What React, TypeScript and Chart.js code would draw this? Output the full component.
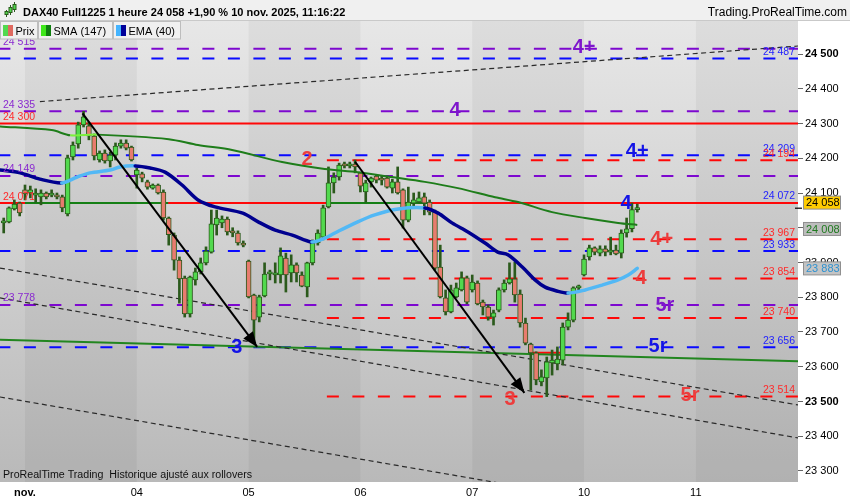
import React, { useEffect, useRef } from "react";
import { Chart, registerables } from "chart.js";

Chart.register(...registerables);

const FONT = "'Liberation Sans', Arial, Helvetica, sans-serif";

// ---- hourly bars (index 0 = first bar of 3 Nov) ----
const firstBar = -4;
const opens = [
  24014, 24017, 24054, 24071, 24109, 24100, 24094, 24089, 24100, 24094,
  24094, 24089, 24040, 24204, 24241, 24296, 24293, 24264, 24195, 24215,
  24192, 24209, 24235, 24244, 24232, 24152, 24155, 24132, 24114, 24123,
  24103, 24028, 23979, 23907, 23855, 23752, 23850, 23873, 23899, 23930,
  24008, 24014, 24025, 23991, 23985, 23956, 23904, 23806, 23743, 23804,
  23867, 23864, 23864, 23913, 23870, 23893, 23864, 23830, 23899, 23956,
  23973, 24060, 24129, 24146, 24180, 24178, 24183, 24158, 24103, 24132,
  24149, 24140, 24143, 24114, 24132, 24109, 24022, 24071, 24074, 24089,
  24074, 24045, 23887, 23798, 23758, 23801, 23821, 23856, 23821, 23841,
  23786, 23772, 23743, 23763, 23821, 23841, 23853, 23809, 23726, 23665,
  23640, 23556, 23568, 23611, 23608, 23619, 23714, 23734, 23827, 23864,
  23916, 23942, 23927, 23939, 23930, 23936, 23927, 23985, 23997, 24052,
];
const highs = [
  24028, 24060, 24080, 24074, 24123, 24120, 24112, 24109, 24103, 24109,
  24100, 24094, 24209, 24247, 24304, 24335, 24304, 24270, 24221, 24224,
  24218, 24244, 24253, 24253, 24235, 24172, 24160, 24137, 24126, 24126,
  24109, 24031, 23985, 23916, 23861, 23861, 23884, 23913, 23945, 24051,
  24051, 24034, 24031, 24000, 23991, 23962, 23907, 23809, 23806, 23899,
  23878, 23899, 23942, 23927, 23922, 23899, 23873, 23901, 23965, 23994,
  24065, 24175, 24158, 24186, 24189, 24189, 24195, 24160, 24137, 24146,
  24152, 24149, 24149, 24140, 24175, 24112, 24117, 24100, 24103, 24100,
  24080, 24051, 23950, 23821, 23835, 23841, 23873, 23861, 23864, 23847,
  23792, 23778, 23763, 23827, 23850, 23899, 23901, 23821, 23740, 23668,
  23643, 23591, 23628, 23648, 23657, 23726, 23755, 23830, 23835, 23922,
  23950, 23945, 23948, 23948, 23973, 23950, 23994, 24028, 24071, 24068,
];
const lows = [
  23985, 24014, 24051, 24034, 24080, 24086, 24074, 24066, 24083, 24089,
  24083, 24046, 24034, 24195, 24229, 24290, 24253, 24195, 24189, 24186,
  24175, 24195, 24229, 24224, 24192, 24114, 24132, 24111, 24111, 24097,
  24022, 23950, 23878, 23783, 23743, 23743, 23835, 23867, 23893, 23927,
  23979, 24000, 23979, 23974, 23950, 23945, 23798, 23671, 23729, 23801,
  23850, 23841, 23841, 23815, 23844, 23844, 23830, 23801, 23893, 23950,
  23965, 24057, 24100, 24137, 24172, 24172, 24158, 24103, 24074, 24117,
  24129, 24123, 24114, 24100, 24097, 23999, 24017, 24057, 24071, 24037,
  24037, 23878, 23798, 23749, 23755, 23798, 23818, 23781, 23815, 23778,
  23749, 23734, 23720, 23758, 23815, 23838, 23786, 23714, 23663, 23533,
  23548, 23545, 23514, 23576, 23591, 23605, 23706, 23729, 23821, 23861,
  23907, 23922, 23919, 23919, 23922, 23922, 23913, 23973, 23988, 24045,
];
const closes = [
  24019, 24057, 24068, 24043, 24097, 24109, 24100, 24100, 24089, 24100,
  24089, 24057, 24201, 24238, 24296, 24319, 24264, 24207, 24215, 24192,
  24209, 24235, 24244, 24229, 24195, 24166, 24143, 24117, 24123, 24100,
  24028, 23980, 23907, 23853, 23752, 23858, 23873, 23899, 23933, 24011,
  24028, 24025, 23988, 23985, 23956, 23950, 23801, 23734, 23801, 23867,
  23873, 23870, 23919, 23864, 23893, 23870, 23832, 23899, 23956, 23985,
  24057, 24129, 24146, 24180, 24178, 24180, 24175, 24120, 24129, 24143,
  24137, 24137, 24117, 24132, 24100, 24022, 24074, 24080, 24086, 24071,
  24045, 23884, 23801, 23758, 23821, 23827, 23856, 23786, 23844, 23781,
  23772, 23743, 23755, 23821, 23841, 23853, 23807, 23726, 23668, 23640,
  23562, 23571, 23614, 23619, 23622, 23714, 23734, 23827, 23832, 23910,
  23942, 23930, 23939, 23930, 23936, 23925, 23985, 23997, 24052, 24058,
];

// ---- moving averages ----
const smaX = [-5, 5, 8.5, 13.5, 27, 32.5, 38.9, 48.3, 56.3, 62.5, 68.9, 75.1, 81.3, 88.3, 92.6, 99, 105.2, 111.4, 115];
const smaY = [24292, 24281, 24266, 24268, 24255, 24238, 24224, 24189, 24169, 24160, 24146, 24132, 24114, 24088, 24074, 24045, 24028, 24014, 24008];
const emaX = [-4.7, -0.9, 2.8, 6.9, 9.8, 12.2, 16.0, 17.8, 20.7, 23.5, 26.3, 29.5, 32.5, 35.7, 40.9, 43.8, 47.0, 50.2, 53.9, 56.3, 58.2, 62.5, 65.7, 70.1, 75.1, 77.6, 80.2, 83.2, 86.4, 88.8, 90.7, 93.4, 95.8, 97.7, 99.9, 102.0, 105.2, 108.4, 111.4, 113.3, 115];
const emaY = [24166, 24158, 24140, 24129, 24146, 24158, 24166, 24175, 24178, 24172, 24160, 24123, 24080, 24060, 24042, 24017, 23993, 23979, 23959, 23970, 23985, 24017, 24037, 24054, 24057, 24042, 24014, 23988, 23956, 23930, 23922, 23887, 23850, 23829, 23818, 23812, 23821, 23835, 23850, 23864, 23883];

// ---- horizontal levels ----
const levelValues = [24515, 24487, 24335, 24300, 24209, 24194, 24149, 24071, 23967, 23933, 23854, 23778, 23740, 23656, 23514];
const levelKinds = ["purple", "blue", "purple", "red", "blue", "red", "purple", "red", "red", "blue", "red", "purple", "red", "blue", "red"];
const levelSolid = [false, false, false, true, false, false, false, true, false, false, false, false, false, false, false];
const levelStart = [-5, -5, -5, -5, -5, 56.7, -5, -5, 56.7, -5, 56.7, -5, 56.7, -5, 56.7];
const levelLabels = ["24 515", "24 487", "24 335", "24 300", "24 209", "24 194", "24 149", "24 071", "23 967", "23 933", "23 854", "23 778", "23 740", "23 656", "23 514"];
const levelSide = ["L", "R", "L", "L", "R", "R", "L", "L", "R", "R", "R", "L", "R", "R", "R"];
const extraLabelValue = 24072;
const extraLabelText = "24 072";

// green segments on 24071 and short red segment
const greenSegStart = [0, 56.7];
const greenSegEnd = [26.9, 75.7];
const greenSegValue = 24071;
const redSegX = [94.9, 100.9];
const redSegValue = 23640;

// ---- trend lines [x0, y0, x1, y1] ----
const dashedTrends = [
  [2.8, 24363, 145.2, 24523],
  [-4.7, 23884, 145.2, 23490],
  [-4.7, 23798, 145.2, 23395],
  [-4.7, 23513, 145.2, 23117],
];
const greenTrend = [-4.7, 23678, 145.2, 23616];
const arrows = [
  [10.8, 24329, 43.6, 23657],
  [62, 24190, 93.8, 23525],
];

// ---- wave annotations ----
const noteText = ["4+", "4", "2", "4+", "4", "4+", "4", "5r", "5r", "5r", "3", "3"];
const noteX = [105, 80.8, 53, 115, 112.9, 119.6, 115.7, 120.2, 118.9, 124.9, 39.8, 91.1];
const noteY = [24523, 24339, 24198, 24221, 24074, 23968, 23858, 23780, 23660, 23519, 23657, 23510];
const noteKind = ["purple", "purple", "red", "blue", "blue", "red", "red", "purple", "blue", "red", "blue", "red"];

// ---- axes ----
const dayLabels = ["nov.", "04", "05", "06", "07", "10", "11"];
const dayStartBar = [0, 21, 42, 63, 84, 105, 126];
const yTicks = [23300, 23400, 23500, 23600, 23700, 23800, 23900, 24000, 24100, 24200, 24300, 24400, 24500];

// ---- price tags on the axis ----
const tagValues = [24058, 24008, 23883];
const tagText = ["24 058", "24 008", "23 883"];

const LINE_COL: Record<string, string> = { purple: "#7d08cf", blue: "#0a0aff", red: "#ff0808" };
const TEXT_COL: Record<string, string> = { purple: "#8a2ad0", blue: "#1e1eff", red: "#ff2a2a" };
const NOTE_COL: Record<string, string> = { purple: "#7e16cc", blue: "#1414e6", red: "#ec3d3d" };

const fmt = (v: number) => `${Math.floor(v / 1000)} ${String(Math.round(v % 1000)).padStart(3, "0")}`;

export default function App() {
  const ref = useRef<HTMLCanvasElement | null>(null);

  useEffect(() => {
    document.body.style.margin = "0";
    const canvas = ref.current;
    if (!canvas) return;

    const barX = opens.map((_, k) => firstBar + k);
    const up = opens.map((o, k) => closes[k] >= o);

    const datasets: any[] = [];

    levelValues.forEach((v, k) => {
      datasets.push({
        type: "line",
        data: [{ x: levelStart[k], y: v }, { x: 146, y: v }],
        borderColor: LINE_COL[levelKinds[k]],
        borderWidth: 2,
        borderDash: levelSolid[k] ? [] : [12, 13.5],
        pointRadius: 0,
        order: 60,
      });
    });
    greenSegStart.forEach((s, k) => {
      datasets.push({
        type: "line",
        data: [{ x: s, y: greenSegValue }, { x: greenSegEnd[k], y: greenSegValue }],
        borderColor: "#157f15",
        borderWidth: 2,
        pointRadius: 0,
        order: 58,
      });
    });
    datasets.push({
      type: "line",
      data: [{ x: redSegX[0], y: redSegValue }, { x: redSegX[1], y: redSegValue }],
      borderColor: "#ff0808",
      borderWidth: 2,
      pointRadius: 0,
      order: 58,
    });
    dashedTrends.forEach((t) => {
      datasets.push({
        type: "line",
        data: [{ x: t[0], y: t[1] }, { x: t[2], y: t[3] }],
        borderColor: "#2a2a2a",
        borderWidth: 1.2,
        borderDash: [5, 3.5],
        pointRadius: 0,
        order: 55,
      });
    });
    datasets.push({
      type: "line",
      data: [{ x: greenTrend[0], y: greenTrend[1] }, { x: greenTrend[2], y: greenTrend[3] }],
      borderColor: "#22861f",
      borderWidth: 2,
      pointRadius: 0,
      order: 55,
    });
    // candles
    datasets.push({
      type: "bar",
      data: barX.map((x, k) => ({ x, y: [lows[k], highs[k]] })),
      backgroundColor: "#2b5a1c",
      borderWidth: 0,
      barThickness: 2,
      grouped: false,
      order: 50,
    });
    datasets.push({
      type: "bar",
      data: barX.map((x, k) => ({ x, y: [opens[k], closes[k]] })),
      backgroundColor: up.map((u) => (u ? "#52d94e" : "#e87c6e")),
      borderColor: "#2b5a1c",
      borderWidth: 1,
      borderSkipped: false,
      barThickness: 5,
      minBarLength: 2,
      grouped: false,
      order: 49,
    });
    // SMA
    datasets.push({
      type: "line",
      data: smaX.map((x, k) => ({ x, y: smaY[k] })),
      borderColor: "#1e7d1a",
      borderWidth: 2,
      pointRadius: 0,
      tension: 0.3,
      segment: {
        borderColor: (c: any) => (c.p1.parsed.y > c.p0.parsed.y ? "#7cf03c" : "#1e7d1a"),
      },
      order: 30,
    });
    // EMA
    datasets.push({
      type: "line",
      data: emaX.map((x, k) => ({ x, y: emaY[k] })),
      borderColor: "#00008f",
      borderWidth: 3.5,
      borderCapStyle: "round",
      borderJoinStyle: "round",
      pointRadius: 0,
      tension: 0.3,
      segment: {
        borderColor: (c: any) => (c.p1.parsed.y > c.p0.parsed.y ? "#52b8f5" : "#00008f"),
      },
      order: 29,
    });
    arrows.forEach((a) => {
      datasets.push({
        type: "line",
        data: [{ x: a[0], y: a[1] }, { x: a[2], y: a[3] }],
        borderColor: "#000",
        borderWidth: 2,
        pointRadius: 0,
        order: 10,
      });
    });

    const bgPlugin = {
      id: "bg",
      beforeDraw(chart: any) {
        const { ctx, chartArea } = chart;
        const { left, top, right, bottom } = chartArea;
        const X = chart.scales.x;
        ctx.save();
        ctx.fillStyle = "#ffffff";
        ctx.fillRect(0, 0, chart.width, chart.height);
        const g = ctx.createLinearGradient(0, top, 0, bottom);
        g.addColorStop(0, "#e7e7e7");
        g.addColorStop(1, "#b9b9b9");
        ctx.fillStyle = g;
        ctx.fillRect(left, top, right - left, bottom - top);
        ctx.fillStyle = "rgba(0,0,0,0.045)";
        for (let k = 0; k < dayStartBar.length; k += 2) {
          const x0 = Math.max(left, X.getPixelForValue(dayStartBar[k]));
          const x1 = k + 1 < dayStartBar.length ? X.getPixelForValue(dayStartBar[k + 1]) : right;
          ctx.fillRect(x0, top, Math.min(right, x1) - x0, bottom - top);
        }
        ctx.restore();
      },
    };

    const overlayPlugin = {
      id: "overlay",
      afterDatasetsDraw(chart: any) {
        const { ctx, chartArea } = chart;
        const { left, top, right, bottom } = chartArea;
        const X = chart.scales.x;
        const Y = chart.scales.y;
        ctx.save();
        ctx.beginPath();
        ctx.rect(left, top, right - left, bottom - top);
        ctx.clip();

        // arrow heads
        ctx.fillStyle = "#000";
        arrows.forEach((a) => {
          const x0 = X.getPixelForValue(a[0]);
          const y0 = Y.getPixelForValue(a[1]);
          const x1 = X.getPixelForValue(a[2]);
          const y1 = Y.getPixelForValue(a[3]);
          const ang = Math.atan2(y1 - y0, x1 - x0);
          const L = 15;
          const W = 6;
          ctx.beginPath();
          ctx.moveTo(x1, y1);
          ctx.lineTo(x1 - L * Math.cos(ang) + W * Math.sin(ang), y1 - L * Math.sin(ang) - W * Math.cos(ang));
          ctx.lineTo(x1 - L * Math.cos(ang) - W * Math.sin(ang), y1 - L * Math.sin(ang) + W * Math.cos(ang));
          ctx.closePath();
          ctx.fill();
        });

        // level labels
        ctx.font = `10.5px ${FONT}`;
        ctx.textBaseline = "alphabetic";
        levelValues.forEach((v, k) => {
          const y = Y.getPixelForValue(v) - 3.5;
          ctx.fillStyle = TEXT_COL[levelKinds[k]];
          if (levelSide[k] === "L") {
            ctx.textAlign = "left";
            ctx.fillText(levelLabels[k], left + 3, y);
          } else {
            ctx.textAlign = "right";
            ctx.fillText(levelLabels[k], right - 3, y);
          }
        });
        ctx.fillStyle = TEXT_COL.blue;
        ctx.textAlign = "right";
        ctx.fillText(extraLabelText, right - 3, Y.getPixelForValue(extraLabelValue) - 4);

        // wave notes
        ctx.font = `bold 20px ${FONT}`;
        ctx.textAlign = "center";
        ctx.textBaseline = "middle";
        noteText.forEach((t, k) => {
          ctx.fillStyle = NOTE_COL[noteKind[k]];
          ctx.fillText(t, X.getPixelForValue(noteX[k]), Y.getPixelForValue(noteY[k]) + 1);
        });

        // footnote
        ctx.font = `10px ${FONT}`;
        ctx.fillStyle = "#111";
        ctx.textAlign = "left";
        ctx.textBaseline = "middle";
        const foot = "ProRealTime Trading  Historique ajusté aux rollovers";
        const w = ctx.measureText(foot).width;
        ctx.translate(left + 3, bottom - 7);
        ctx.scale(249 / w, 1);
        ctx.fillText(foot, 0, 0);
        ctx.restore();
      },
      afterDraw(chart: any) {
        const { ctx, chartArea } = chart;
        const Y = chart.scales.y;
        ctx.save();
        // header
        ctx.fillStyle = "#f0f0f0";
        ctx.fillRect(0, 0, chart.width, 20);
        ctx.strokeStyle = "#c9c9c9";
        ctx.lineWidth = 1;
        ctx.beginPath();
        ctx.moveTo(0, 20.5);
        ctx.lineTo(chart.width, 20.5);
        ctx.stroke();
        // icon
        const icon = [
          [6.5, 10, 17, 11, 15],
          [10.5, 5, 15, 7, 13],
          [14.5, 2, 12, 4, 10],
        ];
        icon.forEach((c) => {
          ctx.fillStyle = "#2b5a1c";
          ctx.fillRect(c[0] - 0.5, c[1], 1, c[2] - c[1]);
          ctx.fillRect(c[0] - 2, c[3], 4, c[4] - c[3]);
          ctx.fillStyle = "#52d94e";
          ctx.fillRect(c[0] - 1, c[3] + 1, 2, c[4] - c[3] - 2);
        });
        ctx.fillStyle = "#000";
        ctx.font = `bold 11px ${FONT}`;
        ctx.textAlign = "left";
        ctx.textBaseline = "alphabetic";
        ctx.fillText("DAX40 Full1225 1 heure 24 058 +1,90 % 10 nov. 2025, 11:16:22", 23, 15.5);
        ctx.font = `12px ${FONT}`;
        ctx.textAlign = "right";
        ctx.fillText("Trading.ProRealTime.com", 847, 16);

        // legend boxes
        const boxes = [
          { x: 0.5, w: 37, text: "Prix", c1: "#52d94e", c2: "#e06a60" },
          { x: 38.5, w: 74, text: "SMA (147)", c1: "#3ee81a", c2: "#0f7f0f" },
          { x: 113.5, w: 67, text: "EMA (40)", c1: "#44b4ff", c2: "#00009a" },
        ];
        ctx.font = `11px ${FONT}`;
        ctx.textAlign = "left";
        boxes.forEach((b) => {
          ctx.fillStyle = "#f0f0f0";
          ctx.fillRect(b.x, 21.5, b.w, 17.5);
          ctx.strokeStyle = "#bdbdbd";
          ctx.strokeRect(b.x, 21.5, b.w, 17.5);
          ctx.fillStyle = b.c1;
          ctx.fillRect(b.x + 2.5, 25, 5, 11);
          ctx.fillStyle = b.c2;
          ctx.fillRect(b.x + 7.5, 25, 5, 11);
          ctx.fillStyle = "#000";
          ctx.fillText(b.text, b.x + 15, 35);
        });

        // price tags on the axis
        const tagShift = [-5, 4, 0];
        const tagBg = ["#ffcc00", "#bdbdbd", "#c4c4c4"];
        const tagFg = ["#000000", "#1f7a1f", "#3092d0"];
        ctx.fillStyle = "#000";
        const yCur = Y.getPixelForValue(tagValues[0]);
        ctx.fillRect(chartArea.right - 3, yCur, 7, 1.2);
        tagValues.forEach((v, k) => {
          const yc = Y.getPixelForValue(v) + tagShift[k];
          ctx.fillStyle = tagBg[k];
          ctx.fillRect(803.5, yc - 6.5, 37, 13);
          ctx.strokeStyle = "#8f8f8f";
          ctx.strokeRect(803.5, yc - 6.5, 37, 13);
          ctx.fillStyle = tagFg[k];
          ctx.font = `11px ${FONT}`;
          ctx.textAlign = "left";
          ctx.textBaseline = "middle";
          ctx.fillText(tagText[k], 806, yc + 0.5);
        });
        ctx.restore();
      },
    };

    const chart = new Chart(canvas, {
      type: "bar",
      data: { datasets },
      options: {
        responsive: false,
        devicePixelRatio: 1,
        animation: false,
        layout: { padding: { top: 21, left: 0, right: 0, bottom: 0 } },
        plugins: { legend: { display: false }, tooltip: { enabled: false } },
        scales: {
          x: {
            type: "linear",
            min: -4.696,
            max: 145.19,
            offset: false,
            grid: { display: false, drawTicks: false },
            border: { display: false },
            afterBuildTicks: (s: any) => {
              s.ticks = dayStartBar.map((v) => ({ value: v }));
            },
            afterFit: (s: any) => {
              s.height = 18;
            },
            ticks: {
              autoSkip: false,
              maxRotation: 0,
              padding: 4,
              color: "#000",
              font: (c: any) => ({ size: 11, family: FONT, weight: c.index === 0 ? "bold" : "normal" }),
              callback: (_v: any, i: number) => dayLabels[i],
            },
          },
          y: {
            type: "linear",
            position: "right",
            min: 23268.3,
            max: 24595,
            grid: { drawOnChartArea: false, tickLength: 5, color: "#666" },
            border: { display: false },
            afterBuildTicks: (s: any) => {
              s.ticks = yTicks.map((v) => ({ value: v }));
            },
            afterFit: (s: any) => {
              s.width = 52;
            },
            ticks: {
              padding: 2,
              color: "#000",
              font: (c: any) => ({
                size: 11,
                family: FONT,
                weight: c.tick && c.tick.value % 500 === 0 ? "bold" : "normal",
              }),
              callback: (v: any) => fmt(Number(v)),
            },
          },
        },
      },
      plugins: [bgPlugin, overlayPlugin],
    } as any);

    return () => chart.destroy();
  }, []);

  return <canvas ref={ref} width={850} height={500} style={{ display: "block", width: 850, height: 500 }} />;
}
